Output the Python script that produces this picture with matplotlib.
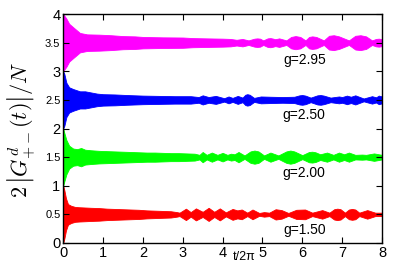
import matplotlib
matplotlib.use("Agg")
import matplotlib.pyplot as plt

# envelope of each oscillating trace: time t/2pi and half width
centers = [3.5, 2.5, 1.5, 0.5]
colors = ['#ff00ff', '#0000ff', '#00ff00', '#ff0000']
labels = ['g=2.95', 'g=2.50', 'g=2.00', 'g=1.50']
label_y = [3.2, 2.24, 1.23, 0.23]

t_mag = [0, 0.03, 0.08, 0.15, 0.25, 0.42, 0.6, 0.9, 1.2, 1.5, 1.8, 2.0, 2.5, 3.0, 3.25, 3.6, 4.0,
         4.2, 4.35, 4.5, 4.65, 4.8, 4.87, 4.94, 5.02, 5.13, 5.2, 5.27, 5.32, 5.42, 5.6, 5.72,
         5.83, 5.95, 6.08, 6.17, 6.25, 6.35, 6.54, 6.67, 6.79, 6.92, 7.17, 7.33, 7.46, 7.6,
         7.75, 7.85, 7.92, 8.0]
w_mag = [0.5, 0.47, 0.42, 0.33, 0.27, 0.17, 0.145, 0.14, 0.13, 0.115, 0.11, 0.1, 0.093, 0.09,
         0.08, 0.075, 0.07, 0.065, 0.05, 0.065, 0.04, 0.07, 0.075, 0.07, 0.04, 0.075, 0.08,
         0.07, 0.06, 0.075, 0.04, 0.1, 0.115, 0.1, 0.04, 0.1, 0.11, 0.1, 0.04, 0.12, 0.13,
         0.11, 0.04, 0.12, 0.13, 0.11, 0.04, 0.065, 0.07, 0.06]

t_blu = [0, 0.03, 0.08, 0.15, 0.25, 0.42, 0.55, 0.7, 0.85, 1.0, 1.3, 1.6, 2.0, 2.4, 2.8, 3.2,
         3.4, 3.5, 3.65, 3.83, 4.04, 4.15, 4.25, 4.38, 4.5, 4.57, 4.62, 4.68, 4.79, 4.96, 5.2,
         5.5, 5.8, 5.93, 6.0, 6.08, 6.21, 6.38, 6.46, 6.54, 6.71, 6.92, 7.0, 7.12, 7.22, 7.33,
         7.54, 7.75, 7.85, 7.92, 8.0]
w_blu = [0.5, 0.45, 0.3, 0.22, 0.19, 0.15, 0.15, 0.13, 0.11, 0.1, 0.095, 0.085, 0.075, 0.07,
         0.065, 0.065, 0.05, 0.08, 0.05, 0.07, 0.03, 0.06, 0.035, 0.07, 0.04, 0.09, 0.1, 0.09,
         0.035, 0.06, 0.055, 0.05, 0.055, 0.08, 0.085, 0.075, 0.04, 0.08, 0.085, 0.075, 0.04,
         0.06, 0.05, 0.075, 0.055, 0.08, 0.025, 0.065, 0.045, 0.075, 0.06]

t_grn = [0, 0.03, 0.08, 0.15, 0.25, 0.35, 0.45, 0.55, 0.7, 0.9, 1.1, 1.3, 1.5, 1.7, 1.9, 2.1,
         2.3, 2.5, 2.7, 2.9, 3.1, 3.3, 3.42, 3.5, 3.6, 3.73, 3.87, 4.0, 4.12, 4.21, 4.3, 4.4,
         4.55, 4.7, 4.8, 4.9, 5.04, 5.2, 5.4, 5.6, 5.7, 5.8, 6.0, 6.17, 6.25, 6.33, 6.45, 6.62,
         6.78, 6.92, 7.05, 7.17, 7.33, 7.5, 7.6, 7.8, 8.0]
w_grn = [0.5, 0.42, 0.3, 0.2, 0.15, 0.14, 0.16, 0.13, 0.12, 0.11, 0.105, 0.1, 0.095, 0.09,
         0.085, 0.08, 0.08, 0.075, 0.07, 0.07, 0.065, 0.06, 0.04, 0.09, 0.04, 0.08, 0.04, 0.075,
         0.04, 0.06, 0.05, 0.09, 0.03, 0.1, 0.115, 0.1, 0.03, 0.08, 0.03, 0.1, 0.115, 0.1,
         0.035, 0.09, 0.095, 0.085, 0.05, 0.08, 0.04, 0.08, 0.05, 0.08, 0.04, 0.045, 0.04,
         0.065, 0.04]

t_red = [0, 0.03, 0.07, 0.12, 0.2, 0.3, 0.4, 0.55, 0.7, 0.9, 1.1, 1.3, 1.5, 1.7, 1.9, 2.1,
         2.3, 2.5, 2.7, 2.85, 2.92, 3.08, 3.2, 3.33, 3.5, 3.65, 3.79, 3.93, 4.08, 4.25, 4.37,
         4.48, 4.62, 4.75, 4.92, 5.04, 5.17, 5.33, 5.48, 5.65, 5.85, 6.07, 6.25, 6.5, 6.68,
         6.8, 6.88, 6.96, 7.07, 7.17, 7.25, 7.33, 7.43, 7.63, 7.83, 8.0]
w_red = [0.5, 0.42, 0.28, 0.18, 0.15, 0.13, 0.125, 0.12, 0.115, 0.11, 0.1, 0.095, 0.09, 0.085,
         0.08, 0.07, 0.065, 0.06, 0.055, 0.04, 0.03, 0.1, 0.04, 0.105, 0.045, 0.115, 0.045,
         0.105, 0.035, 0.095, 0.07, 0.085, 0.03, 0.085, 0.025, 0.04, 0.03, 0.09, 0.075, 0.025,
         0.08, 0.085, 0.03, 0.075, 0.03, 0.09, 0.1, 0.09, 0.03, 0.085, 0.095, 0.085, 0.03,
         0.075, 0.03, 0.03]

times = [t_mag, t_blu, t_grn, t_red]
widths = [w_mag, w_blu, w_grn, w_red]

plt.rcParams['font.family'] = ['Liberation Sans', 'DejaVu Sans']
plt.rcParams['mathtext.fontset'] = 'cm'

fig = plt.figure(figsize=(4, 2.7), dpi=100)
ax = fig.add_axes([0.158, 0.1, 0.797, 0.848])

for t, w, c, col, lab, ly in zip(times, widths, centers, colors, labels, label_y):
    lo = [c - v for v in w]
    hi = [c + v for v in w]
    ax.fill_between(t, lo, hi, color=col, lw=0.6, edgecolor=col)
    ax.text(6.05, ly, lab, fontsize=10, ha='center', va='center')

ax.set_xlim(0, 8)
ax.set_ylim(0, 4)
ax.set_xticks(range(9))
ax.set_xticklabels([str(i) for i in range(9)], fontsize=10.5)
yt = [0, 0.5, 1, 1.5, 2, 2.5, 3, 3.5, 4]
ax.set_yticks(yt)
ax.set_yticklabels(['0', '0.5', '1', '1.5', '2', '2.5', '3', '3.5', '4'])
for v, tl in zip(yt, ax.get_yticklabels()):
    tl.set_fontsize(10.5 if float(v).is_integer() else 8)
ax.tick_params(direction='in', top=True, right=True, length=4, width=0.8, pad=2)
for s in ax.spines.values():
    s.set_linewidth(1.0)

ax.text(4.53, -0.25, 't/2π', fontsize=9, ha='center', va='center')
fig.text(0.055, 0.52, r'$2\,\left|G^{d}_{+-}(t)\right|/N$', fontsize=16,
         rotation=90, ha='center', va='center')

fig.savefig('out.png', dpi=100)
